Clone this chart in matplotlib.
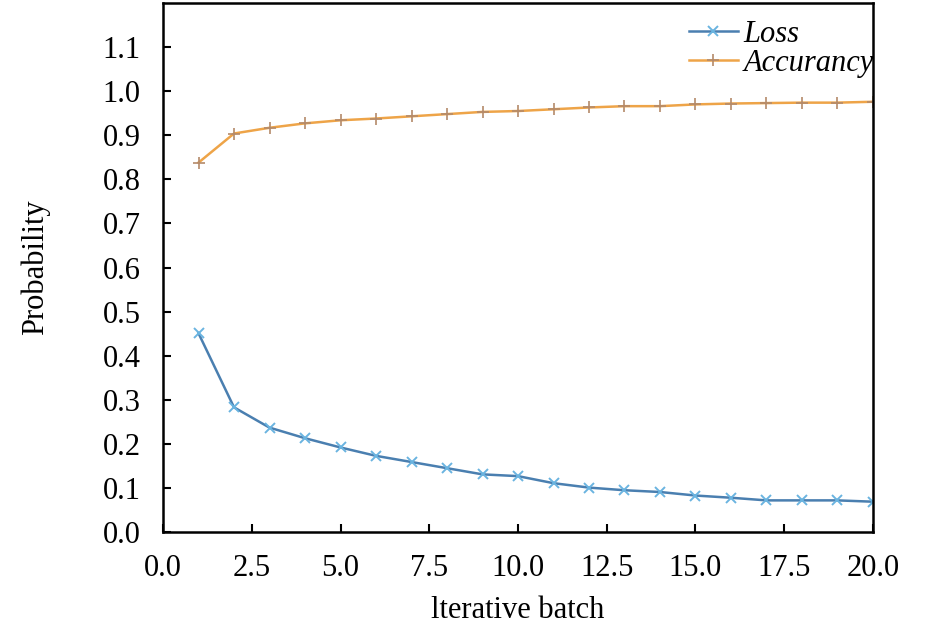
import matplotlib
matplotlib.use("Agg")
import matplotlib.pyplot as plt

# data
batches = list(range(1, 21))
loss = [0.451, 0.283, 0.237, 0.213, 0.192, 0.173, 0.159, 0.145, 0.131, 0.127,
        0.111, 0.101, 0.095, 0.091, 0.083, 0.078, 0.072, 0.072, 0.072, 0.069]
accuracy = [0.838, 0.904, 0.917, 0.927, 0.934, 0.938, 0.943, 0.948, 0.953, 0.955,
            0.959, 0.963, 0.966, 0.966, 0.970, 0.972, 0.973, 0.974, 0.974, 0.976]
x_ticks = [0.0, 2.5, 5.0, 7.5, 10.0, 12.5, 15.0, 17.5, 20.0]
y_ticks = [0.0, 0.1, 0.2, 0.3, 0.4, 0.5, 0.6, 0.7, 0.8, 0.9, 1.0, 1.1]

plt.rcParams['font.family'] = ['Liberation Serif', 'DejaVu Serif']

fig = plt.figure(figsize=(9.45, 6.35), dpi=100)
ax = fig.add_axes([0.1725, 0.162, 0.7513, 0.8333])

ax.plot(batches, loss, color='#4a7fb0', lw=1.8, marker='x', ms=7,
        mec='#6ab4e0', mew=1.4, label='Loss')
ax.plot(batches, accuracy, color='#eea448', lw=1.8, marker='+', ms=8,
        mec='#b48a6a', mew=1.2, label='Accurancy')

ax.set_xlim(0, 20)
ax.set_ylim(0, 1.2)
ax.set_xticks(x_ticks)
ax.set_xticklabels(['%.1f' % v for v in x_ticks])
ax.set_yticks(y_ticks)
ax.set_yticklabels(['%.1f' % v for v in y_ticks])
ax.tick_params(direction='in', length=6, width=1.5, labelsize=22)
ax.tick_params(axis='y', pad=16)
ax.tick_params(axis='x', pad=16)

for s in ax.spines.values():
    s.set_linewidth(1.8)

ax.set_xlabel('lterative batch', fontsize=22)
ax.set_ylabel('Probability', fontsize=22)
ax.xaxis.set_label_coords(0.5, -0.12)
ax.yaxis.set_label_coords(-0.159, 0.5)

leg = ax.legend(loc='upper right', bbox_to_anchor=(1.012, 0.983), frameon=False,
                fontsize=22, handlelength=1.6, borderaxespad=0.05,
                labelspacing=0.0, handletextpad=0.2, borderpad=0.2)
for t in leg.get_texts():
    t.set_fontstyle('italic')

fig.savefig('out.png', dpi=100)
